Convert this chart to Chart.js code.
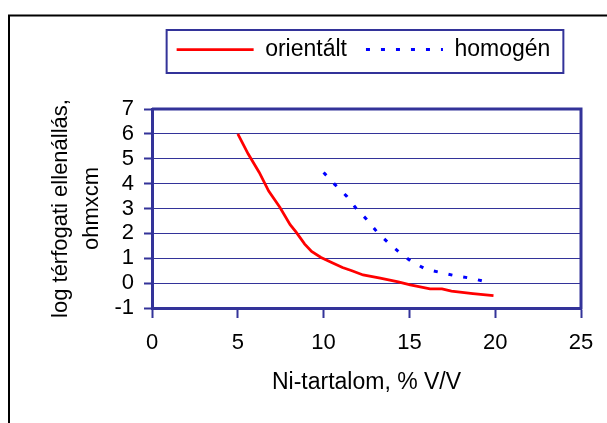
<!DOCTYPE html>
<html>
<head>
<meta charset="utf-8">
<script src="https://cdn.jsdelivr.net/npm/chart.js@4.4.1/dist/chart.umd.min.js"></script>
<style>
html,body{margin:0;padding:0;background:#fff;overflow:hidden}
#wrap{width:607px;height:423px}
</style>
</head>
<body>
<div id="wrap"><canvas id="c" width="607" height="423"></canvas></div>
<script>
// ---- data ----
const seriesNames = ['orientált', 'homogén'];
const orientaltX = [5, 5.6, 6.25, 6.8, 7.45, 8.05, 8.4, 8.9, 9.3, 9.85, 10.5, 11.1, 11.65, 12.3, 13.3, 14.35, 15.05, 16.2, 16.9, 17.45, 18.7, 19.9];
const orientaltY = [6.0, 5.2, 4.45, 3.7, 3.05, 2.35, 2.05, 1.57, 1.27, 1.03, 0.82, 0.63, 0.5, 0.33, 0.2, 0.05, -0.07, -0.23, -0.23, -0.32, -0.42, -0.5];
const homogenX = [10, 10.65, 11.35, 11.9, 12.5, 13.1, 13.7, 14.35, 15.05, 15.95, 16.8, 17.65, 18.55, 19.7];
const homogenY = [4.45, 3.97, 3.49, 3.0, 2.57, 2.07, 1.67, 1.28, 0.9, 0.56, 0.43, 0.3, 0.2, 0.02];
const xTickValues = [0, 5, 10, 15, 20, 25];
const yTickValues = [-1, 0, 1, 2, 3, 4, 5, 6, 7];
const xAxisTitle = 'Ni-tartalom, % V/V';
const yAxisTitle = ['log térfogati ellenállás,', 'ohmxcm'];

const FONT = "'Liberation Sans', Arial, Helvetica, sans-serif";
const NAVY = '#333399';
Chart.defaults.font.family = FONT;
Chart.defaults.color = '#000';

const toPoints = (xs, ys) => xs.map((x, i) => ({x: x, y: ys[i]}));

const framePlugin = {
  id: 'frame',
  beforeLayout(chart) {
    const lg = chart.legend;
    if (lg && !lg._fixedFit) {
      const orig = lg.fit;
      lg.fit = function () { orig.call(this); this.height = 90; };
      lg._fixedFit = true;
    }
  },
  afterLayout(chart) {
    const lg = chart.legend;
    if (lg) { lg.left -= 3; lg.right -= 3; }
  },
  beforeDraw(chart) {
    const ctx = chart.ctx;
    ctx.save();
    ctx.fillStyle = '#fff';
    ctx.fillRect(0, 0, chart.width, chart.height);
    ctx.strokeStyle = '#000';
    ctx.lineWidth = 2;
    ctx.strokeRect(9, 15.5, 800, 600);
    ctx.restore();
  },
  afterDraw(chart) {
    const ctx = chart.ctx;
    const a = chart.chartArea;
    ctx.save();
    // top and right frame of the plot area
    ctx.strokeStyle = NAVY;
    ctx.lineWidth = 3;
    ctx.beginPath();
    ctx.moveTo(a.left, a.top);
    ctx.lineTo(a.right, a.top);
    ctx.lineTo(a.right, a.bottom + 1.5);
    ctx.stroke();
    // legend border
    const hb = chart.legend && chart.legend.legendHitBoxes;
    if (hb && hb.length) {
      const last = hb[hb.length - 1];
      const l = hb[0].left - 10;
      const r = last.left + last.width + 13;
      const t = hb[0].top - 8;
      const b = hb[0].top + hb[0].height + 12;
      ctx.lineWidth = 2;
      ctx.strokeRect(l, t, r - l, b - t);
    }
    ctx.restore();
  }
};

new Chart(document.getElementById('c'), {
  type: 'line',
  data: {
    datasets: [
      {
        label: seriesNames[0],
        data: toPoints(orientaltX, orientaltY),
        borderColor: '#ff0000',
        backgroundColor: '#ff0000',
        borderWidth: 2.75,
        pointRadius: 0,
        pointHoverRadius: 0,
        tension: 0,
        fill: false
      },
      {
        label: seriesNames[1],
        data: toPoints(homogenX, homogenY),
        borderColor: '#0000ff',
        backgroundColor: '#0000ff',
        borderWidth: 3,
        borderDash: [4, 11],
        pointRadius: 0,
        pointHoverRadius: 0,
        tension: 0,
        fill: false
      }
    ]
  },
  options: {
    responsive: false,
    animation: false,
    devicePixelRatio: 1,
    layout: {padding: {left: 0, right: 26, top: 19, bottom: 0}},
    plugins: {
      tooltip: {enabled: false},
      legend: {
        position: 'top',
        fullSize: false,
        labels: {
          usePointStyle: true,
          pointStyle: 'line',
          pointStyleWidth: 77,
          padding: 19,
          color: '#000',
          font: {family: FONT, size: 23},
          generateLabels(chart) {
            const items = Chart.defaults.plugins.legend.labels.generateLabels(chart);
            items.forEach(it => {
              const ds = chart.data.datasets[it.datasetIndex];
              it.lineDash = ds.borderDash || [];
              it.lineWidth = ds.borderWidth;
              it.strokeStyle = ds.borderColor;
            });
            return items;
          }
        }
      }
    },
    scales: {
      x: {
        type: 'linear',
        position: 'bottom',
        min: xTickValues[0],
        max: xTickValues[xTickValues.length - 1],
        afterBuildTicks(s) { s.ticks = xTickValues.map(v => ({value: v})); },
        afterFit(s) { s.height = 115; },
        ticks: {font: {family: FONT, size: 22}, color: '#000', padding: 12, maxRotation: 0, autoSkip: false},
        grid: {drawOnChartArea: false, drawTicks: true, tickLength: 10, tickColor: NAVY, tickWidth: 2},
        border: {color: NAVY, width: 3},
        title: {display: true, text: xAxisTitle, color: '#000', font: {family: FONT, size: 23}, padding: {top: 0, bottom: 27}}
      },
      y: {
        type: 'linear',
        position: 'left',
        min: yTickValues[0],
        max: yTickValues[yTickValues.length - 1],
        afterBuildTicks(s) { s.ticks = yTickValues.map(v => ({value: v})); },
        afterFit(s) { s.width = 152; },
        ticks: {font: {family: FONT, size: 22}, color: '#000', padding: 10, autoSkip: false},
        grid: {color: NAVY, lineWidth: 1, drawTicks: true, tickLength: 8, tickColor: NAVY, tickWidth: 2},
        border: {color: NAVY, width: 3},
        title: {display: true, text: yAxisTitle, color: '#000', font: {family: FONT, size: 22, lineHeight: 1.4}, padding: {top: 46, bottom: 0}}
      }
    }
  },
  plugins: [framePlugin]
});
</script>
</body>
</html>
